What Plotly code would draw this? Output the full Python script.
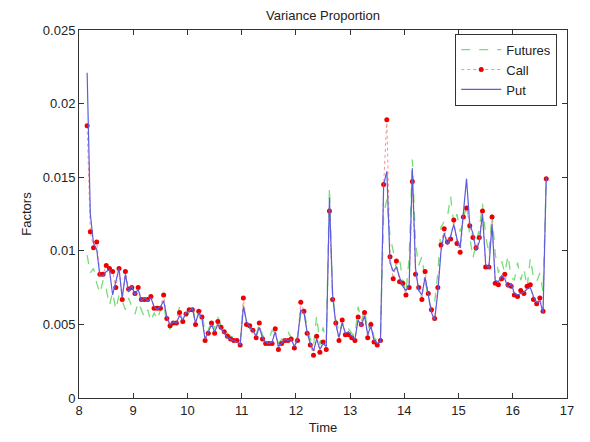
import plotly.graph_objects as go

# Time grid (hours)
t_start = 8.15
t_step = 0.0588
n_points = 145

call = [
    0.0185, 0.0113, 0.0102, 0.0106, 0.0084, 0.0084, 0.0090, 0.0088, 0.0086, 0.0075,
    0.0088, 0.0067, 0.0086, 0.0074, 0.0075, 0.0071, 0.0075, 0.0067, 0.0067, 0.0067,
    0.0069, 0.0061, 0.0061, 0.0061, 0.0070, 0.0054, 0.0049, 0.0051, 0.0051, 0.0058,
    0.0052, 0.0057, 0.0060, 0.0060, 0.0050, 0.0059, 0.0055, 0.0039, 0.0044, 0.0051,
    0.0044, 0.0052, 0.0048, 0.0045, 0.0042, 0.0040, 0.0039, 0.0039, 0.0036, 0.0068,
    0.0050, 0.0049, 0.0046, 0.0041, 0.0051, 0.0040, 0.0037, 0.0037, 0.0037, 0.0047,
    0.0033, 0.0037, 0.0039, 0.0039, 0.0040, 0.0034, 0.0039, 0.0065, 0.0059, 0.0044,
    0.0036, 0.0029, 0.0042, 0.0031, 0.0038, 0.0033, 0.0127, 0.0067, 0.0051, 0.0039,
    0.0053, 0.0043, 0.0043, 0.0041, 0.0039, 0.0055, 0.0050, 0.0058, 0.0041, 0.0050,
    0.0038, 0.0036, 0.0039, 0.0145, 0.0189, 0.0096, 0.0081, 0.0093, 0.0079, 0.0078,
    0.0070, 0.0075, 0.0147, 0.0084, 0.0075, 0.0067, 0.0086, 0.0071, 0.0060, 0.0054,
    0.0075, 0.0104, 0.0115, 0.0106, 0.0108, 0.0121, 0.0105, 0.0099, 0.0123, 0.0129,
    0.0117, 0.0109, 0.0102, 0.0109, 0.0127, 0.0089, 0.0089, 0.0123, 0.0078, 0.0077,
    0.0081, 0.0084, 0.0077, 0.0076, 0.0070, 0.0069, 0.0073, 0.0071, 0.0076, 0.0077,
    0.0067, 0.0064, 0.0068, 0.0059, 0.0149,
]

put = [
    0.0221, 0.0125, 0.0105, 0.0101, 0.0083, 0.0083, 0.0086, 0.0087, 0.0070, 0.0080,
    0.0088, 0.0068, 0.0084, 0.0072, 0.0076, 0.0070, 0.0074, 0.0066, 0.0068, 0.0066,
    0.0068, 0.0062, 0.0060, 0.0062, 0.0066, 0.0055, 0.0050, 0.0052, 0.0051, 0.0056,
    0.0053, 0.0058, 0.0059, 0.0061, 0.0051, 0.0058, 0.0054, 0.0040, 0.0045, 0.0050,
    0.0045, 0.0050, 0.0047, 0.0044, 0.0041, 0.0040, 0.0039, 0.0038, 0.0036, 0.0062,
    0.0052, 0.0048, 0.0046, 0.0042, 0.0048, 0.0041, 0.0038, 0.0037, 0.0038, 0.0045,
    0.0035, 0.0037, 0.0040, 0.0039, 0.0040, 0.0035, 0.0040, 0.0060, 0.0058, 0.0045,
    0.0037, 0.0032, 0.0040, 0.0033, 0.0037, 0.0035, 0.0136, 0.0070, 0.0050, 0.0041,
    0.0051, 0.0044, 0.0045, 0.0042, 0.0040, 0.0053, 0.0049, 0.0056, 0.0043, 0.0049,
    0.0039, 0.0037, 0.0038, 0.0145, 0.0154, 0.0092, 0.0086, 0.0089, 0.0082, 0.0076,
    0.0073, 0.0077, 0.0156, 0.0088, 0.0073, 0.0070, 0.0082, 0.0069, 0.0058, 0.0053,
    0.0072, 0.0100, 0.0112, 0.0104, 0.0110, 0.0118, 0.0108, 0.0102, 0.0128, 0.0149,
    0.0118, 0.0112, 0.0100, 0.0106, 0.0125, 0.0091, 0.0088, 0.0118, 0.0080, 0.0079,
    0.0083, 0.0081, 0.0075, 0.0078, 0.0071, 0.0070, 0.0071, 0.0072, 0.0074, 0.0075,
    0.0069, 0.0065, 0.0066, 0.0058, 0.0150,
]

futures = [
    0.0097, 0.0085, 0.0088, 0.0078, 0.0071, 0.0080, 0.0074, 0.0063, 0.0072, 0.0060,
    0.0070, 0.0066, 0.0060, 0.0068, 0.0062, 0.0057, 0.0065, 0.0060, 0.0055, 0.0060,
    0.0052, 0.0058, 0.0053, 0.0060, 0.0064, 0.0050, 0.0047, 0.0050, 0.0053, 0.0062,
    0.0050, 0.0055, 0.0058, 0.0064, 0.0052, 0.0057, 0.0060, 0.0043, 0.0046, 0.0053,
    0.0047, 0.0055, 0.0049, 0.0046, 0.0044, 0.0042, 0.0041, 0.0040, 0.0038, 0.0063,
    0.0053, 0.0047, 0.0048, 0.0043, 0.0050, 0.0043, 0.0039, 0.0040, 0.0046, 0.0044,
    0.0037, 0.0040, 0.0042, 0.0045, 0.0041, 0.0037, 0.0042, 0.0057, 0.0060, 0.0048,
    0.0040, 0.0035, 0.0056, 0.0036, 0.0048, 0.0038, 0.0143, 0.0068, 0.0055, 0.0044,
    0.0051, 0.0046, 0.0047, 0.0044, 0.0042, 0.0062, 0.0052, 0.0060, 0.0046, 0.0052,
    0.0041, 0.0039, 0.0042, 0.0125, 0.0135, 0.0110, 0.0100, 0.0088, 0.0094, 0.0080,
    0.0072, 0.0095, 0.0162, 0.0105, 0.0090, 0.0096, 0.0080, 0.0068, 0.0060, 0.0065,
    0.0085, 0.0116, 0.0120, 0.0123, 0.0137, 0.0118, 0.0125, 0.0113, 0.0120, 0.0133,
    0.0110, 0.0095, 0.0105, 0.0115, 0.0132, 0.0110, 0.0098, 0.0125, 0.0098, 0.0085,
    0.0093, 0.0085, 0.0097, 0.0082, 0.0080, 0.0092, 0.0080, 0.0088, 0.0075, 0.0095,
    0.0082, 0.0079, 0.0085, 0.0072, 0.0148,
]

time = [round(t_start + i * t_step, 4) for i in range(n_points)]

x_ticks = [8, 9, 10, 11, 12, 13, 14, 15, 16, 17]
y_ticks = [0, 0.005, 0.01, 0.015, 0.02, 0.025]
y_tick_labels = ["0", "0.005", "0.01", "0.015", "0.02", "0.025"]

fig = go.Figure()
fig.add_trace(go.Scatter(
    x=time, y=futures, mode="lines", name="Futures",
    line=dict(color="#77dd77", width=1.3, dash="dash"),
))
fig.add_trace(go.Scatter(
    x=time, y=call, mode="lines+markers", name="Call",
    line=dict(color="#ff9090", width=1, dash="dot"),
    marker=dict(color="#ee0000", size=5),
))
fig.add_trace(go.Scatter(
    x=time, y=put, mode="lines", name="Put",
    line=dict(color="#5c5ce0", width=1.2),
))

axis_common = dict(
    showgrid=False, zeroline=False, showline=True, linecolor="#333333",
    linewidth=1, mirror="allticks", ticks="inside", ticklen=5,
    tickcolor="#333333", tickfont=dict(size=13, color="#222222"),
    automargin=False,
)

# The page body adds an 8px margin, so the figure is sized to fit the window.
fig_w, fig_h = 582, 434

fig.update_layout(
    width=fig_w, height=fig_h,
    margin=dict(l=71, r=23, t=22, b=44, autoexpand=False),
    paper_bgcolor="white", plot_bgcolor="white",
    font=dict(family="Liberation Sans, Arial, sans-serif", size=13, color="#222222"),
    title=dict(text="Variance Proportion", x=0.5, xanchor="center",
               xref="paper", y=1 - 7 / fig_h, yref="container", yanchor="middle",
               font=dict(size=13)),
    xaxis=dict(range=[8, 17], tickvals=x_ticks,
               title=dict(text="Time", standoff=6, font=dict(size=13)),
               **axis_common),
    yaxis=dict(range=[0, 0.025], tickvals=y_ticks, ticktext=y_tick_labels,
               title=dict(text="Factors", standoff=8, font=dict(size=13)),
               **axis_common),
    legend=dict(x=0.98, xanchor="right", y=0.99, yanchor="top",
                bordercolor="#333333", borderwidth=1, bgcolor="white",
                font=dict(size=13), tracegroupgap=0, itemwidth=40),
    showlegend=True,
)

fig.write_html("out.html")
